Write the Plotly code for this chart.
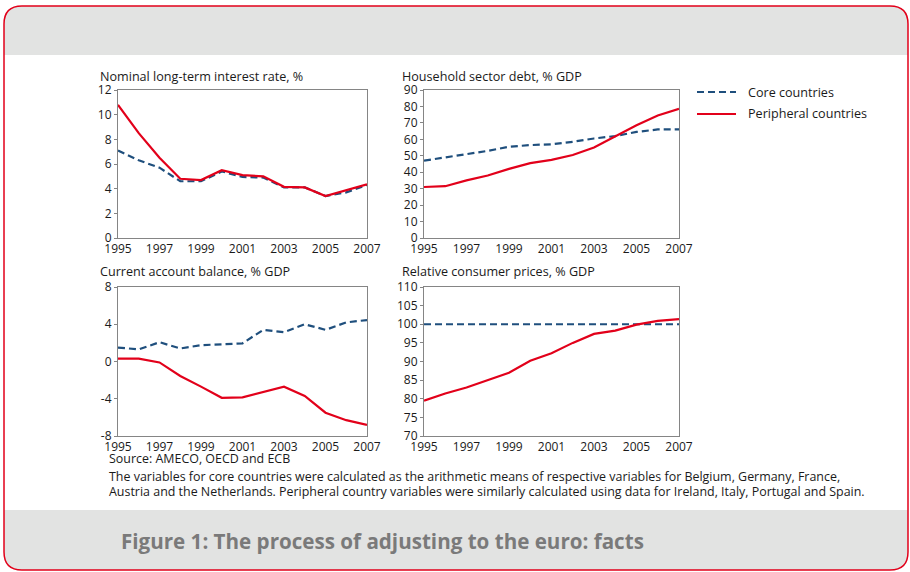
import plotly.graph_objects as go

# ---------------- data ----------------
years = list(range(1995, 2008))
year_ticks = [1995, 1997, 1999, 2001, 2003, 2005, 2007]

interest_core = [7.1, 6.3, 5.7, 4.6, 4.6, 5.4, 4.95, 4.9, 4.1, 4.1, 3.4, 3.7, 4.3]
interest_peri = [10.8, 8.5, 6.5, 4.8, 4.7, 5.5, 5.1, 5.0, 4.15, 4.1, 3.4, 3.85, 4.35]

debt_core = [47, 49, 51, 53, 55.5, 56.5, 57, 58.5, 60.5, 62, 64.5, 66, 66]
debt_peri = [31, 31.5, 35, 38, 42, 45.5, 47.5, 50.5, 55, 62, 68.5, 74.5, 78.5]

ca_core = [1.5, 1.3, 2.07, 1.4, 1.75, 1.85, 1.95, 3.4, 3.15, 4.0, 3.4, 4.2, 4.45]
ca_peri = [0.3, 0.3, -0.1, -1.55, -2.7, -3.9, -3.85, -3.3, -2.7, -3.7, -5.5, -6.3, -6.8]

prices_core = [100] * 13
prices_peri = [79.5, 81.4, 83.0, 85.0, 87.0, 90.2, 92.2, 95.0, 97.4, 98.3, 99.9, 100.9, 101.4]

interest_ticks = [0, 2, 4, 6, 8, 10, 12]
debt_ticks = [0, 10, 20, 30, 40, 50, 60, 70, 80, 90]
ca_ticks = [-8, -4, 0, 4, 8]
ca_ticktext = ["-8", "-4", "0", "4", "8"]
prices_ticks = [70, 75, 80, 85, 90, 95, 100, 105, 110]

titles = ["Nominal long-term interest rate, %", "Household sector debt, % GDP",
          "Current account balance, % GDP", "Relative consumer prices, % GDP"]
series_names = ["Core countries", "Peripheral countries"]

source_text = "Source: AMECO, OECD and ECB"
note_line1 = ("The variables for core countries were calculated as the arithmetic means of "
              "respective variables for Belgium, Germany, France,")
note_line2 = ("Austria and the Netherlands. Peripheral country variables were similarly "
              "calculated using data for Ireland, Italy, Portugal and Spain.")
caption = "Figure 1: The process of adjusting to the euro: facts"

# ---------------- styling / layout ----------------
W, H = 910, 572
FONT = "Open Sans, Liberation Sans, Arial, sans-serif"
CORE_COLOR = "#1f4f7d"
PERI_COLOR = "#e2001a"
AXIS_COLOR = "#858585"
BAND = "#e2e3e2"
FRAME = "#e2001a"
TEXT = "#1a1a1a"
CORE_DASH = "7px,4px"


def px(x):
    return x / W


def py(y):
    return 1 - y / H


panels = [
    dict(title=titles[0], core=interest_core, peri=interest_peri, yr=[0, 12],
         tv=interest_ticks, tt=None, box=(118, 367, 90, 238), tpos=(98, 76)),
    dict(title=titles[1], core=debt_core, peri=debt_peri, yr=[0, 90],
         tv=debt_ticks, tt=None, box=(424, 679, 90, 238), tpos=(400, 76)),
    dict(title=titles[2], core=ca_core, peri=ca_peri, yr=[-8, 8],
         tv=ca_ticks, tt=ca_ticktext, box=(118, 367, 287, 436), tpos=(98, 271)),
    dict(title=titles[3], core=prices_core, peri=prices_peri, yr=[70, 110],
         tv=prices_ticks, tt=None, box=(424, 679, 287, 436), tpos=(400, 271)),
]

fig = go.Figure()
annotations = []
layout_axes = {}

for i, p in enumerate(panels):
    n = "" if i == 0 else str(i + 1)
    xa, ya = "x" + n, "y" + n
    fig.add_trace(go.Scatter(x=years, y=p["core"], mode="lines", name=series_names[0],
                             line=dict(color=CORE_COLOR, width=2.2, dash=CORE_DASH),
                             xaxis=xa, yaxis=ya, showlegend=False, hoverinfo="skip"))
    fig.add_trace(go.Scatter(x=years, y=p["peri"], mode="lines", name=series_names[1],
                             line=dict(color=PERI_COLOR, width=2.2),
                             xaxis=xa, yaxis=ya, showlegend=False, hoverinfo="skip"))
    x0, x1, y0, y1 = p["box"]
    axis_common = dict(showline=True, linecolor=AXIS_COLOR, linewidth=1, mirror=True,
                       showgrid=False, zeroline=False, automargin=False,
                       tickfont=dict(family=FONT, size=12, color=TEXT))
    layout_axes["xaxis" + n] = dict(axis_common, domain=[px(x0), px(x1)], range=[1995, 2007],
                                    tickvals=year_ticks, anchor=ya, ticks="", ticklen=0)
    yax = dict(axis_common, domain=[py(y1), py(y0)], range=p["yr"], tickvals=p["tv"], anchor=xa,
               ticks="outside", ticklen=3, tickcolor=AXIS_COLOR)
    if p["tt"] is not None:
        yax["ticktext"] = p["tt"]
    layout_axes["yaxis" + n] = yax
    annotations.append(dict(text=p["title"], x=px(p["tpos"][0]), y=py(p["tpos"][1]),
                            xref="paper", yref="paper", xanchor="left", yanchor="middle",
                            showarrow=False, font=dict(family=FONT, size=12.6, color=TEXT)))

for txt, yy in [(source_text, 459), (note_line1, 476), (note_line2, 491)]:
    annotations.append(dict(text=txt, x=px(107), y=py(yy), xref="paper", yref="paper",
                            xanchor="left", yanchor="middle", showarrow=False,
                            font=dict(family=FONT, size=12.45, color=TEXT)))

annotations.append(dict(text="<b>" + caption + "</b>", x=px(119), y=py(541), xref="paper",
                        yref="paper", xanchor="left", yanchor="middle", showarrow=False,
                        font=dict(family=FONT, size=20.6, color="#7a7a7a")))

# legend (manual key)
for name, yy in [(series_names[0], 92), (series_names[1], 114)]:
    annotations.append(dict(text=name, x=px(746), y=py(yy), xref="paper", yref="paper",
                            xanchor="left", yanchor="middle", showarrow=False,
                            font=dict(family=FONT, size=12.6, color=TEXT)))

# frame shapes (pixel coords converted to paper)
L, R, T, B, r = 4, 908, 6, 570, 18


def P(x, y):
    return f"{px(x):.5f},{py(y):.5f}"


top_band = (f"M {P(L, 55)} L {P(L, T + r)} Q {P(L, T)} {P(L + r, T)} L {P(R - r, T)} "
            f"Q {P(R, T)} {P(R, T + r)} L {P(R, 55)} Z")
bot_band = (f"M {P(L, 510)} L {P(R, 510)} L {P(R, B - r)} Q {P(R, B)} {P(R - r, B)} "
            f"L {P(L + r, B)} Q {P(L, B)} {P(L, B - r)} Z")
frame = (f"M {P(L, T + r)} Q {P(L, T)} {P(L + r, T)} L {P(R - r, T)} Q {P(R, T)} {P(R, T + r)} "
         f"L {P(R, B - r)} Q {P(R, B)} {P(R - r, B)} L {P(L + r, B)} Q {P(L, B)} {P(L, B - r)} Z")

shapes = [
    dict(type="path", path=top_band, xref="paper", yref="paper", fillcolor=BAND,
         line=dict(width=0), layer="below"),
    dict(type="path", path=bot_band, xref="paper", yref="paper", fillcolor=BAND,
         line=dict(width=0), layer="below"),
    dict(type="path", path=frame, xref="paper", yref="paper",
         line=dict(color=FRAME, width=1.5), layer="above"),
    dict(type="line", xref="paper", yref="paper", x0=px(697), x1=px(736), y0=py(92), y1=py(92),
         line=dict(color=CORE_COLOR, width=2.2, dash=CORE_DASH)),
    dict(type="line", xref="paper", yref="paper", x0=px(697), x1=px(736), y0=py(114), y1=py(114),
         line=dict(color=PERI_COLOR, width=2.2)),
]

fig.update_layout(
    width=W, height=H, margin=dict(l=0, r=0, t=0, b=0, pad=0, autoexpand=False),
    paper_bgcolor="white", plot_bgcolor="white",
    font=dict(family=FONT, size=12, color=TEXT),
    annotations=annotations, shapes=shapes, showlegend=False,
    **layout_axes,
)

fig.write_html("out.html", config={"displayModeBar": False, "staticPlot": True},
               post_script="document.body.style.margin='0';")
